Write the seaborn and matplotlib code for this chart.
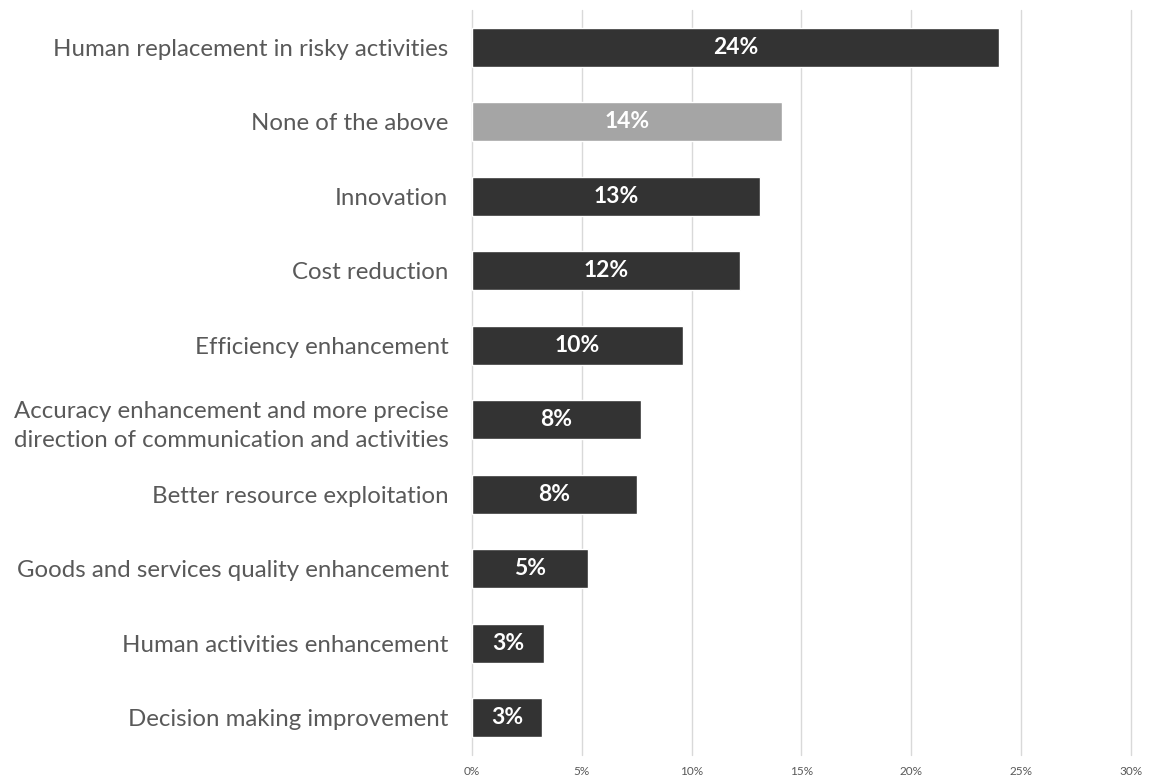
import matplotlib
matplotlib.use("Agg")
import matplotlib.pyplot as plt
import seaborn as sns
import pandas as pd
from matplotlib.ticker import PercentFormatter

categories = [
    "Human replacement in risky activities",
    "None of the above",
    "Innovation",
    "Cost reduction",
    "Efficiency enhancement",
    "Accuracy enhancement and more precise\ndirection of communication and activities",
    "Better resource exploitation",
    "Goods and services quality enhancement",
    "Human activities enhancement",
    "Decision making improvement",
]
shares = [24.0, 14.1, 13.1, 12.2, 9.6, 7.7, 7.5, 5.3, 3.3, 3.2]
groups = ["benefit", "none", "benefit", "benefit", "benefit",
          "benefit", "benefit", "benefit", "benefit", "benefit"]
x_ticks = [0, 5, 10, 15, 20, 25, 30]

df = pd.DataFrame({"category": categories, "share": shares, "group": groups})

sns.set_theme(style="white")
plt.rcParams["font.family"] = ["Lato", "DejaVu Sans"]

fig = plt.figure(figsize=(11.49, 7.81), dpi=100)
ax = fig.add_axes([0.4108, 0.0333, 0.5735, 0.9539])

palette = {"benefit": "#333333", "none": "#a5a5a5"}
sns.barplot(data=df, x="share", y="category", hue="group", palette=palette,
            dodge=False, width=0.52, legend=False, ax=ax, zorder=3)

# value labels centred inside each bar
for i, val in enumerate(shares):
    ax.text(val / 2, i, f"{val:.0f}%", ha="center", va="center",
            color="white", fontsize=16.5, fontweight="bold", zorder=4)

ax.set_xlim(0, 30)
ax.set_ylim(9.5, -0.5)
ax.set_xticks(x_ticks)
ax.xaxis.set_major_formatter(PercentFormatter(decimals=0))
ax.grid(axis="x", color="#d9d9d9", linewidth=1, zorder=0)
ax.grid(axis="y", visible=False)
for gl in ax.get_xgridlines():
    gl.set_clip_on(False)
for s in ax.spines.values():
    s.set_visible(False)
ax.set_xlabel("")
ax.set_ylabel("")
ax.tick_params(axis="x", labelsize=8.5, colors="#595959", length=0, pad=8)
ax.tick_params(axis="y", labelsize=17.3, colors="#595959", length=0, pad=17)
for lbl in ax.get_yticklabels():
    lbl.set_multialignment("right")
    lbl.set_linespacing(1.5)

fig.savefig("out.png", dpi=100)
